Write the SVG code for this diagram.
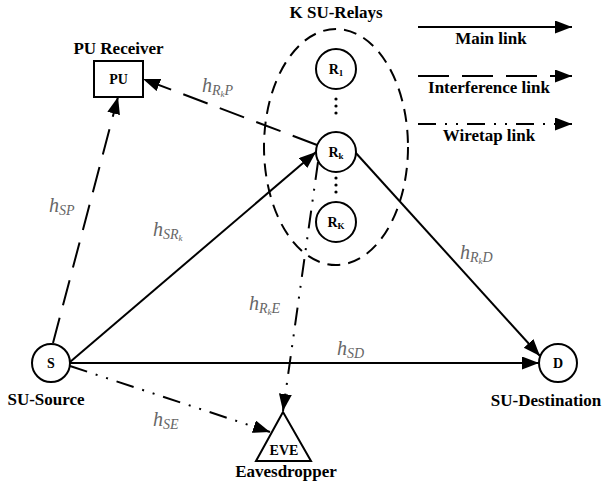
<svg xmlns="http://www.w3.org/2000/svg" width="602" height="486" viewBox="0 0 602 486">
  <style>
    .lbl { font-family: "Liberation Serif", "Times New Roman", serif; font-weight: bold; font-size: 17px; fill: #000; text-anchor: middle; }
    .in { font-family: "Liberation Serif", "Times New Roman", serif; font-weight: bold; font-size: 14px; fill: #000; text-anchor: middle; }
    .math { font-family: "Liberation Serif", "Times New Roman", serif; font-style: italic; font-size: 20px; fill: #666; }
    .node { fill: #fff; stroke: #000; stroke-width: 2; }
    .main { fill: none; stroke: #000; stroke-width: 2; }
    .intf { fill: none; stroke: #000; stroke-width: 2; stroke-dasharray: 26 13; }
    .wire { fill: none; stroke: #000; stroke-width: 2; stroke-dasharray: 18 9 2 9 2 9; }
    .group { fill: none; stroke: #000; stroke-width: 2; stroke-dasharray: 13 8; }
  </style>
  <defs>
    <marker id="arrow" markerUnits="userSpaceOnUse" markerWidth="18" markerHeight="14" refX="17" refY="6.5" orient="auto">
      <path d="M0,0 L17,6.5 L0,13 z" fill="#000" stroke="none"/>
    </marker>
  </defs>

  <!-- relay cluster outline and title -->
  <g id="relay-cluster">
    <ellipse class="group" cx="336" cy="147" rx="72" ry="118"/>
    <text class="lbl" x="336" y="18">K SU-Relays</text>
  </g>

  <!-- links -->
  <g id="connectors">
    <line class="intf" x1="53" y1="343" x2="118" y2="97" marker-end="url(#arrow)"/>
    <line class="intf" x1="317" y1="145" x2="143" y2="79" marker-end="url(#arrow)"/>
    <line class="main" x1="70" y1="362" x2="316" y2="152" marker-end="url(#arrow)"/>
    <line class="main" x1="70" y1="363" x2="539" y2="363" marker-end="url(#arrow)"/>
    <line class="main" x1="355" y1="152" x2="540" y2="356" marker-end="url(#arrow)"/>
    <line class="wire" x1="318" y1="162" x2="283" y2="411" marker-end="url(#arrow)"/>
    <line class="wire" x1="70" y1="366" x2="270" y2="432" marker-end="url(#arrow)"/>
  </g>

  <!-- channel labels -->
  <g id="channel-labels">
    <text class="math" x="49" y="212">h<tspan font-size="14" dy="3">SP</tspan></text>
    <text class="math" x="202" y="92">h<tspan font-size="14" dy="3">R</tspan><tspan font-size="9" dy="2">k</tspan><tspan font-size="14" dy="-2">P</tspan></text>
    <text class="math" x="153" y="236">h<tspan font-size="14" dy="3">SR</tspan><tspan font-size="9" dy="2">k</tspan></text>
    <text class="math" x="249" y="310">h<tspan font-size="14" dy="3">R</tspan><tspan font-size="9" dy="2">k</tspan><tspan font-size="14" dy="-2">E</tspan></text>
    <text class="math" x="460" y="259">h<tspan font-size="14" dy="3">R</tspan><tspan font-size="9" dy="2">k</tspan><tspan font-size="14" dy="-2">D</tspan></text>
    <text class="math" x="337" y="355">h<tspan font-size="14" dy="3">SD</tspan></text>
    <text class="math" x="153" y="426">h<tspan font-size="14" dy="3">SE</tspan></text>
  </g>

  <g id="pu">
    <rect class="node" x="94" y="61" width="49" height="36"/>
    <text class="in" x="118.5" y="84">PU</text>
    <text class="lbl" x="118.5" y="54">PU Receiver</text>
  </g>

  <g id="relay-1">
    <circle class="node" cx="336" cy="69" r="20"/>
    <text class="in" x="336" y="74">R<tspan font-size="9" dy="2">1</tspan></text>
  </g>
  <g id="relay-dots-upper">
    <circle cx="336" cy="99" r="1.6"/>
    <circle cx="336" cy="106" r="1.6"/>
    <circle cx="336" cy="113" r="1.6"/>
  </g>
  <g id="relay-k">
    <circle class="node" cx="336" cy="152" r="20"/>
    <text class="in" x="336" y="157">R<tspan font-size="9" dy="2">k</tspan></text>
  </g>
  <g id="relay-dots-lower">
    <circle cx="336" cy="178" r="1.6"/>
    <circle cx="336" cy="185" r="1.6"/>
    <circle cx="336" cy="192" r="1.6"/>
  </g>
  <g id="relay-K">
    <circle class="node" cx="336" cy="222" r="20"/>
    <text class="in" x="336" y="227">R<tspan font-size="9" dy="2">K</tspan></text>
  </g>

  <g id="source">
    <circle class="node" cx="51" cy="363" r="19"/>
    <text class="in" x="51" y="368">S</text>
    <text class="lbl" x="46" y="405">SU-Source</text>
  </g>

  <g id="destination">
    <circle class="node" cx="558" cy="363" r="19"/>
    <text class="in" x="558" y="368">D</text>
    <text class="lbl" x="546" y="406">SU-Destination</text>
  </g>

  <g id="eavesdropper">
    <polygon class="node" points="283,412 256,461 311,461"/>
    <text class="in" x="284" y="455">EVE</text>
    <text class="lbl" x="286" y="477">Eavesdropper</text>
  </g>

  <!-- legend -->
  <g id="legend">
    <line class="main" x1="418" y1="27" x2="572" y2="27" marker-end="url(#arrow)"/>
    <text class="lbl" x="491" y="44">Main link</text>
    <line class="intf" x1="418" y1="76" x2="572" y2="76" style="stroke-dasharray:31 13" marker-end="url(#arrow)"/>
    <text class="lbl" x="489" y="93">Interference link</text>
    <line class="wire" x1="418" y1="124" x2="572" y2="124" marker-end="url(#arrow)"/>
    <text class="lbl" x="489" y="141">Wiretap link</text>
  </g>
</svg>
